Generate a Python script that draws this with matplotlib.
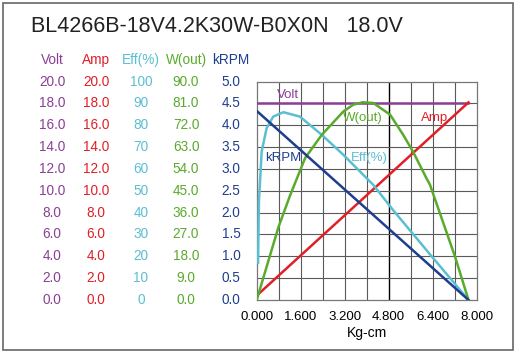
#!/usr/bin/env python3
"""Motor performance curve: BL4266B-18V4.2K30W-B0X0N at 18.0V"""

import matplotlib
matplotlib.use('Agg')
from matplotlib import pyplot as plt
from matplotlib.patches import Rectangle
import matplotlib.transforms as mtransforms

plt.rcParams['font.family'] = ['Liberation Sans', 'DejaVu Sans']

TITLE = 'BL4266B-18V4.2K30W-B0X0N   18.0V'
X_LABEL = 'Kg-cm'
X_TICKS = [0.0, 1.6, 3.2, 4.8, 6.4, 8.0]

# scale columns (left side), each spans 0..5 on the shared plot axis
col_names = ['Volt', 'Amp', 'Eff(%)', 'W(out)', 'kRPM']
col_max = [20.0, 20.0, 100, 90.0, 5.0]
col_fmt = ['{:.1f}', '{:.1f}', '{:.0f}', '{:.1f}', '{:.1f}']

# curves (torque in kg-cm)
volt_t = [0.0, 7.7]
volt_v = [18.0, 18.0]

amp_t = [0.0, 7.7]
amp_v = [0.4, 18.1]

krpm_t = [0.0, 7.7]
krpm_v = [4.33, 0.0]

eff_t = [0.05, 0.08, 0.18, 0.36, 0.6, 0.97, 1.57, 2.36, 3.15, 4.24, 4.97, 6.36, 7.7]
eff_v = [17, 45, 68, 78.7, 84, 86, 84, 75.7, 66.5, 52.7, 41, 20, 0]

wout_t = [0.0, 0.79, 1.21, 1.76, 2.36, 3.15, 3.51, 3.85, 4.24, 4.85, 5.33, 5.69,
          6.18, 6.3, 7.21, 7.7]
wout_v = [0, 30, 43, 58.5, 68, 77.7, 80.5, 81.5, 81.2, 76.4, 68, 61, 50, 47.5,
          17.9, 0]

colors = {'Volt': '#8a3f95', 'Amp': '#e01f26', 'Eff(%)': '#5bbfd2',
          'W(out)': '#5aaa2c', 'kRPM': '#1e3f8f'}

fig = plt.figure(figsize=(5.16, 3.55), dpi=100)
fig.patches.append(Rectangle((3 / 516, 5 / 355), 510 / 516, 347 / 355,
                             transform=fig.transFigure, fill=False,
                             edgecolor='#666666', linewidth=1.2))

ax = fig.add_axes((0.4975, 0.155, 0.4264, 0.615))
ax.set_xlim(0, 8)
ax.set_ylim(0, 5)
for s in ax.spines.values():
    s.set_color('#777777')
    s.set_linewidth(0.9)

# grid: every 0.8 on x, every 0.5 on y
for i in range(1, 10):
    ax.axvline(i * 0.8, color='black' if i == 6 else '#5a5a5a',
               linewidth=1.0 if i == 6 else 0.8, zorder=1)
for j in range(1, 10):
    ax.axhline(j * 0.5, color='#5a5a5a', linewidth=0.8, zorder=1)

ax.set_xticks(X_TICKS)
ax.set_xticklabels(['{:.3f}'.format(t) for t in X_TICKS], fontsize=9.5)
ax.tick_params(axis='x', length=0, pad=8)
ax.set_yticks([])
ax.set_xlabel(X_LABEL, fontsize=10, labelpad=2)


def scaled(vals, vmax):
    return [v / vmax * 5.0 for v in vals]


lw = 1.8
ax.plot(volt_t, scaled(volt_v, 20.0), color=colors['Volt'], lw=lw, zorder=3)
ax.plot(amp_t, scaled(amp_v, 20.0), color=colors['Amp'], lw=lw, zorder=3)
ax.plot(eff_t, scaled(eff_v, 100.0), color=colors['Eff(%)'], lw=lw, zorder=3)
ax.plot(wout_t, scaled(wout_v, 90.0), color=colors['W(out)'], lw=lw, zorder=3)
ax.plot(krpm_t, scaled(krpm_v, 5.0), color=colors['kRPM'], lw=lw, zorder=3)

# in-plot curve labels
lab_kw = dict(fontsize=9.5, va='center', ha='left', zorder=4)
ax.text(0.74, 4.70, 'Volt', color=colors['Volt'], **lab_kw)
ax.text(3.14, 4.17, 'W(out)', color=colors['W(out)'], **lab_kw)
ax.text(5.97, 4.17, 'Amp', color=colors['Amp'], **lab_kw)
ax.text(0.30, 3.26, 'kRPM', color=colors['kRPM'], **lab_kw)
ax.text(3.43, 3.26, 'Eff(%)', color=colors['Eff(%)'], **lab_kw)

# left scale columns
trans = mtransforms.blended_transform_factory(fig.transFigure, ax.transData)
col_x = [52, 96, 141, 186, 231]
for name, vmax, fmt, cx in zip(col_names, col_max, col_fmt, col_x):
    for k in range(11):
        val = vmax * k / 10
        ax.text(cx / 516, k * 0.5, fmt.format(val), transform=trans,
                ha='center', va='center', fontsize=9.8, color=colors[name],
                clip_on=False)
    fig.text(cx / 516, 1 - 60 / 355, name, ha='center', va='center',
             fontsize=9.8, color=colors[name])

fig.text(31 / 516, 1 - 26 / 355, TITLE, ha='left', va='center', fontsize=15.5,
         color='#222222')

fig.savefig('out.png', dpi=100)
